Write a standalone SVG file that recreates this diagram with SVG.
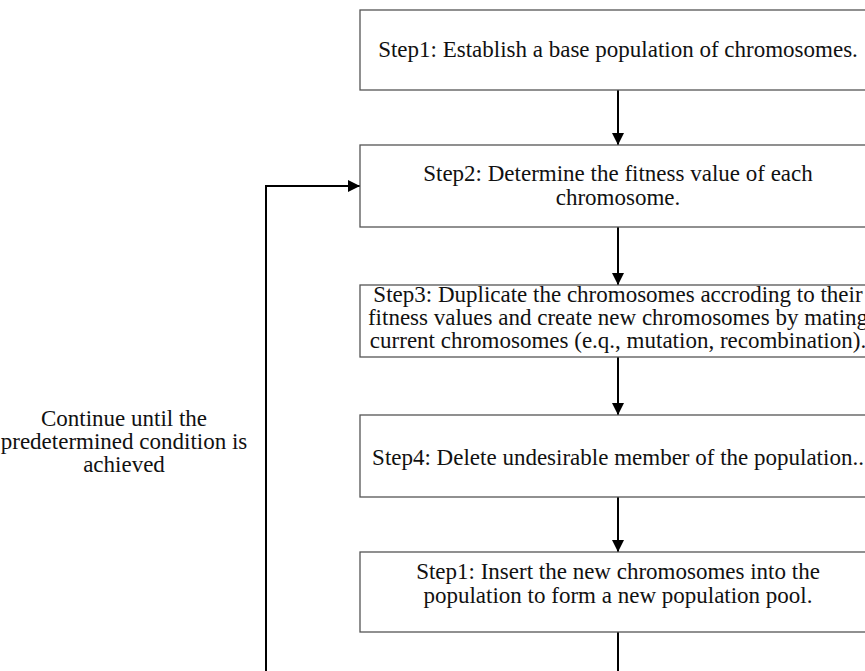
<svg xmlns="http://www.w3.org/2000/svg" width="865" height="671" viewBox="0 0 865 671">
  <style>
    .box { fill: #ffffff; stroke: #555555; stroke-width: 1.3; }
    .txt { font-family: "Liberation Serif", "Times New Roman", serif; font-size: 23px; fill: #111111; text-anchor: middle; }
    .link { fill: none; stroke: #000000; stroke-width: 2; }
  </style>
  <defs>
    <marker id="head" viewBox="0 0 12 12" refX="12" refY="6" markerWidth="12" markerHeight="12" markerUnits="userSpaceOnUse" orient="auto">
      <path d="M0,0 L12,6 L0,12 Z" fill="#000000"/>
    </marker>
  </defs>
  <rect width="865" height="671" fill="#ffffff"/>

  <g id="connectors">
    <line class="link" x1="618" y1="90" x2="618" y2="145" marker-end="url(#head)"/>
    <line class="link" x1="618" y1="227" x2="618" y2="285" marker-end="url(#head)"/>
    <line class="link" x1="618" y1="357" x2="618" y2="415" marker-end="url(#head)"/>
    <line class="link" x1="618" y1="497" x2="618" y2="552" marker-end="url(#head)"/>
    <line class="link" x1="618" y1="632" x2="618" y2="672"/>
    <polyline class="link" points="266,672 266,186 360,186" marker-end="url(#head)"/>
  </g>

  <g id="step1">
    <rect class="box" x="360" y="10" width="516" height="80"/>
    <text class="txt" x="618" y="57">Step1: Establish a base population of chromosomes.</text>
  </g>

  <g id="step2">
    <rect class="box" x="360" y="145" width="516" height="82"/>
    <text class="txt" x="618" y="181">Step2: Determine the fitness value of each</text>
    <text class="txt" x="618" y="205">chromosome.</text>
  </g>

  <g id="step3">
    <rect class="box" x="360" y="285" width="516" height="72"/>
    <text class="txt" x="618" y="302">Step3: Duplicate the chromosomes accroding to their</text>
    <text class="txt" x="618" y="325">fitness values and create new chromosomes by mating</text>
    <text class="txt" x="618" y="348">current chromosomes (e.q., mutation, recombination).</text>
  </g>

  <g id="step4">
    <rect class="box" x="360" y="415" width="516" height="82"/>
    <text class="txt" x="618" y="465">Step4: Delete undesirable member of the population..</text>
  </g>

  <g id="step5">
    <rect class="box" x="360" y="552" width="516" height="80"/>
    <text class="txt" x="618" y="579">Step1: Insert the new chromosomes into the</text>
    <text class="txt" x="618" y="603">population to form a new population pool.</text>
  </g>

  <g id="loop-label">
    <text class="txt" x="124" y="426">Continue until the</text>
    <text class="txt" x="124" y="449">predetermined condition is</text>
    <text class="txt" x="124" y="472">achieved</text>
  </g>
</svg>
